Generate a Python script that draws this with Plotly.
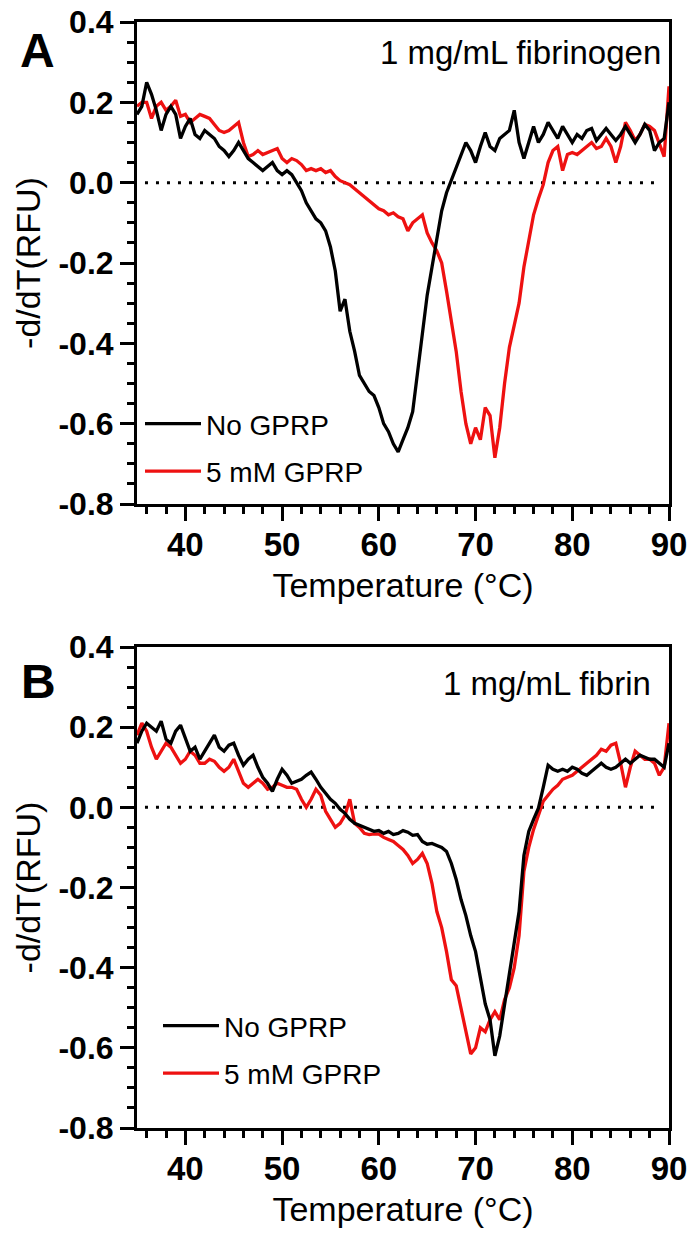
import plotly.graph_objects as go

# ---------------- data ----------------
temperature = [35 + 0.5 * i for i in range(111)]  # 35.0 .. 90.0 °C

fibrinogen_no_gprp = [
    0.17, 0.19, 0.25, 0.22, 0.18, 0.13, 0.17, 0.19, 0.17, 0.11,
    0.14, 0.16, 0.12, 0.11, 0.13, 0.12, 0.11, 0.09, 0.08, 0.065,
    0.08, 0.10, 0.08, 0.06, 0.05, 0.04, 0.03, 0.04, 0.05, 0.03,
    0.02, 0.03, 0.02, 0.00, -0.02, -0.05, -0.07, -0.09, -0.10, -0.12,
    -0.16, -0.22, -0.32, -0.29, -0.37, -0.42, -0.48, -0.50, -0.52, -0.53,
    -0.56, -0.60, -0.62, -0.65, -0.67, -0.64, -0.61, -0.57, -0.47, -0.37,
    -0.28, -0.21, -0.14, -0.07, -0.025, 0.005, 0.04, 0.07, 0.10, 0.08,
    0.05, 0.09, 0.125, 0.09, 0.08, 0.11, 0.12, 0.13, 0.18, 0.10,
    0.06, 0.10, 0.14, 0.10, 0.12, 0.15, 0.13, 0.11, 0.14, 0.12,
    0.10, 0.12, 0.11, 0.13, 0.135, 0.105, 0.12, 0.135, 0.12, 0.105,
    0.12, 0.14, 0.12, 0.10, 0.12, 0.145, 0.13, 0.08, 0.10, 0.11,
    0.20,
]

fibrinogen_5mm_gprp = [
    0.19, 0.20, 0.20, 0.16, 0.19, 0.20, 0.18, 0.19, 0.205, 0.165,
    0.17, 0.15, 0.16, 0.17, 0.165, 0.16, 0.145, 0.13, 0.125, 0.13,
    0.14, 0.15, 0.10, 0.065, 0.07, 0.08, 0.07, 0.075, 0.08, 0.085,
    0.06, 0.05, 0.06, 0.055, 0.045, 0.03, 0.035, 0.03, 0.035, 0.025,
    0.03, 0.015, 0.005, 0.00, -0.005, -0.015, -0.025, -0.035, -0.045, -0.055,
    -0.065, -0.07, -0.08, -0.075, -0.085, -0.09, -0.12, -0.10, -0.09, -0.08,
    -0.125, -0.15, -0.17, -0.20, -0.27, -0.35, -0.42, -0.52, -0.60, -0.65,
    -0.61, -0.64, -0.56, -0.58, -0.685, -0.61, -0.50, -0.41, -0.35, -0.30,
    -0.21, -0.14, -0.08, -0.04, -0.005, 0.05, 0.08, 0.09, 0.03, 0.07,
    0.075, 0.07, 0.08, 0.09, 0.10, 0.085, 0.09, 0.11, 0.09, 0.05,
    0.09, 0.15, 0.13, 0.105, 0.12, 0.145, 0.14, 0.13, 0.10, 0.065,
    0.24,
]

fibrin_no_gprp = [
    0.16, 0.19, 0.21, 0.20, 0.19, 0.215, 0.17, 0.16, 0.19, 0.205,
    0.17, 0.14, 0.15, 0.12, 0.14, 0.16, 0.18, 0.15, 0.14, 0.155,
    0.16, 0.13, 0.105, 0.12, 0.13, 0.10, 0.075, 0.06, 0.04, 0.07,
    0.095, 0.08, 0.06, 0.065, 0.07, 0.08, 0.088, 0.07, 0.05, 0.035,
    0.02, 0.01, -0.005, -0.015, -0.03, -0.04, -0.045, -0.05, -0.055, -0.06,
    -0.058, -0.065, -0.06, -0.068, -0.065, -0.058, -0.062, -0.07, -0.068, -0.085,
    -0.092, -0.09, -0.095, -0.10, -0.11, -0.14, -0.18, -0.23, -0.27, -0.32,
    -0.36, -0.43, -0.49, -0.53, -0.62, -0.57, -0.49, -0.42, -0.34, -0.26,
    -0.12, -0.06, -0.03, -0.002, 0.05, 0.105, 0.095, 0.09, 0.095, 0.09,
    0.10, 0.095, 0.085, 0.08, 0.09, 0.10, 0.11, 0.10, 0.095, 0.10,
    0.11, 0.12, 0.11, 0.12, 0.13, 0.125, 0.12, 0.12, 0.11, 0.10,
    0.16,
]

fibrin_5mm_gprp = [
    0.18, 0.21, 0.19, 0.15, 0.12, 0.14, 0.16, 0.15, 0.13, 0.11,
    0.12, 0.14, 0.13, 0.11, 0.11, 0.12, 0.115, 0.10, 0.09, 0.10,
    0.12, 0.09, 0.06, 0.05, 0.06, 0.07, 0.06, 0.045, 0.05, 0.06,
    0.055, 0.05, 0.05, 0.045, 0.02, 0.00, 0.02, 0.045, 0.03, -0.01,
    -0.03, -0.05, -0.04, -0.02, 0.02, -0.04, -0.05, -0.065, -0.068, -0.066,
    -0.067, -0.075, -0.08, -0.085, -0.095, -0.105, -0.12, -0.14, -0.13, -0.115,
    -0.14, -0.19, -0.26, -0.30, -0.36, -0.43, -0.445, -0.50, -0.56, -0.615,
    -0.60, -0.55, -0.56, -0.53, -0.51, -0.53, -0.48, -0.45, -0.40, -0.32,
    -0.16, -0.10, -0.055, -0.02, 0.015, 0.03, 0.045, 0.055, 0.07, 0.075,
    0.08, 0.09, 0.10, 0.11, 0.12, 0.13, 0.145, 0.14, 0.155, 0.16,
    0.11, 0.05, 0.10, 0.14, 0.13, 0.12, 0.12, 0.11, 0.08, 0.10,
    0.21,
]

series_names = ["No GPRP", "5 mM GPRP"]
panel_labels = ["A", "B"]
panel_notes = ["1 mg/mL fibrinogen", "1 mg/mL fibrin"]
x_tick_vals = [40, 50, 60, 70, 80, 90]
x_tick_text = ["40", "50", "60", "70", "80", "90"]
y_tick_vals = [0.4, 0.2, 0.0, -0.2, -0.4, -0.6, -0.8]
y_tick_text = ["0.4", "0.2", "0.0", "-0.2", "-0.4", "-0.6", "-0.8"]
x_title = "Temperature (°C)"
y_title = "-d/dT(RFU)"

# ---------------- style ----------------
FONT = "Liberation Sans, Arial, Helvetica, sans-serif"
BLACK = "#000000"
RED = "#ee1111"
W, H = 693, 1235
OFF = 0  # page body margin is removed below, so figure starts at (0, 0)
# target screen pixels of the plot areas
SCR_L, SCR_R = 137, 669
SCR_A_TOP, SCR_A_BOT = 22, 504
SCR_B_TOP, SCR_B_BOT = 647, 1128
ML = SCR_L - OFF
MR = W - (SCR_R - OFF)
MT = SCR_A_TOP - OFF
MB = H - (SCR_B_BOT - OFF)
plot_h = H - MT - MB
plot_w = W - ML - MR


def py(pix):  # screen pixel row -> paper y
    return 1 - (pix - OFF - MT) / plot_h


def px(pix):  # screen pixel column -> paper x
    return (pix - OFF - ML) / plot_w


fig = go.Figure()

panels = [
    ("x", "y", "legend", fibrinogen_no_gprp, fibrinogen_5mm_gprp),
    ("x2", "y2", "legend2", fibrin_no_gprp, fibrin_5mm_gprp),
]
for xa, ya, lg, black_vals, red_vals in panels:
    fig.add_trace(go.Scatter(
        x=temperature, y=red_vals, mode="lines", name=series_names[1],
        line=dict(color=RED, width=3.3), xaxis=xa, yaxis=ya, legend=lg,
        legendgroup=lg + "r", legendrank=2,
    ))
    fig.add_trace(go.Scatter(
        x=temperature, y=black_vals, mode="lines", name=series_names[0],
        line=dict(color=BLACK, width=3.3), xaxis=xa, yaxis=ya, legend=lg,
        legendgroup=lg + "b", legendrank=1,
    ))

axis_common_x = dict(
    range=[35, 90], tickvals=x_tick_vals, ticktext=x_tick_text,
    ticks="outside", ticklen=14, tickwidth=3, tickcolor=BLACK,
    showline=True, linewidth=3, linecolor=BLACK, mirror=True,
    showgrid=False, zeroline=False, automargin=False,
    ticklabelstandoff=-5, ticklabeloverflow="allow",
    tickfont=dict(family=FONT, size=33, color=BLACK, weight="bold"),
    minor=dict(dtick=2, ticks="outside", ticklen=7, tickwidth=3, tickcolor=BLACK, showgrid=False),
    title=dict(text=x_title, font=dict(family=FONT, size=34, color=BLACK), standoff=12),
)
axis_common_y = dict(
    range=[-0.8, 0.4], tickvals=y_tick_vals, ticktext=y_tick_text,
    ticks="outside", ticklen=14, tickwidth=3, tickcolor=BLACK,
    showline=True, linewidth=3, linecolor=BLACK, mirror=True,
    showgrid=False, zeroline=False, automargin=False,
    ticklabeloverflow="allow",
    tickfont=dict(family=FONT, size=32, color=BLACK, weight="bold"),
    minor=dict(dtick=0.05, ticks="outside", ticklen=7, tickwidth=3, tickcolor=BLACK, showgrid=False),
    title=dict(text=y_title, font=dict(family=FONT, size=34, color=BLACK), standoff=8),
)

domA = [py(SCR_A_BOT), 1.0]
domB = [0.0, py(SCR_B_TOP)]

fig.update_layout(
    template="none",
    width=W, height=H,
    margin=dict(l=ML, r=MR, t=MT, b=MB, autoexpand=False),
    paper_bgcolor="white", plot_bgcolor="white",
    font=dict(family=FONT, color=BLACK),
    xaxis=dict(axis_common_x, domain=[0, 1], anchor="y"),
    yaxis=dict(axis_common_y, domain=domA, anchor="x"),
    xaxis2=dict(axis_common_x, domain=[0, 1], anchor="y2"),
    yaxis2=dict(axis_common_y, domain=domB, anchor="x2"),
    legend=dict(
        x=px(140), y=py(399), xanchor="left", yanchor="top",
        bgcolor="rgba(0,0,0,0)", borderwidth=0,
        traceorder="grouped", tracegroupgap=8, itemwidth=56,
        font=dict(family=FONT, size=28, color=BLACK),
    ),
    legend2=dict(
        x=px(158), y=py(1001), xanchor="left", yanchor="top",
        bgcolor="rgba(0,0,0,0)", borderwidth=0,
        traceorder="grouped", tracegroupgap=8, itemwidth=56,
        font=dict(family=FONT, size=28, color=BLACK),
    ),
    showlegend=True,
)

# dotted zero lines
for xr, yr in (("x", "y"), ("x2", "y2")):
    fig.add_shape(
        type="line", xref=xr + " domain", yref=yr, x0=0.015, x1=0.985, y0=0, y1=0,
        line=dict(color=BLACK, width=3, dash="3px,8px"), layer="below",
    )

# panel letters
fig.add_annotation(text=panel_labels[0], x=px(37), y=py(50), xref="paper", yref="paper",
                   showarrow=False, xanchor="center", yanchor="middle",
                   font=dict(family=FONT, size=48, color=BLACK, weight="bold"))
fig.add_annotation(text=panel_labels[1], x=px(38), y=py(681), xref="paper", yref="paper",
                   showarrow=False, xanchor="center", yanchor="middle",
                   font=dict(family=FONT, size=48, color=BLACK, weight="bold"))

# panel notes
fig.add_annotation(text=panel_notes[0], x=px(663), y=py(53), xref="paper", yref="paper",
                   showarrow=False, xanchor="right", yanchor="middle",
                   font=dict(family=FONT, size=33, color=BLACK))
fig.add_annotation(text=panel_notes[1], x=px(653), y=py(683), xref="paper", yref="paper",
                   showarrow=False, xanchor="right", yanchor="middle",
                   font=dict(family=FONT, size=33, color=BLACK))

fig.write_html(
    "out.html",
    config={"displayModeBar": False},
    post_script="document.body.style.margin='0px';",
)
